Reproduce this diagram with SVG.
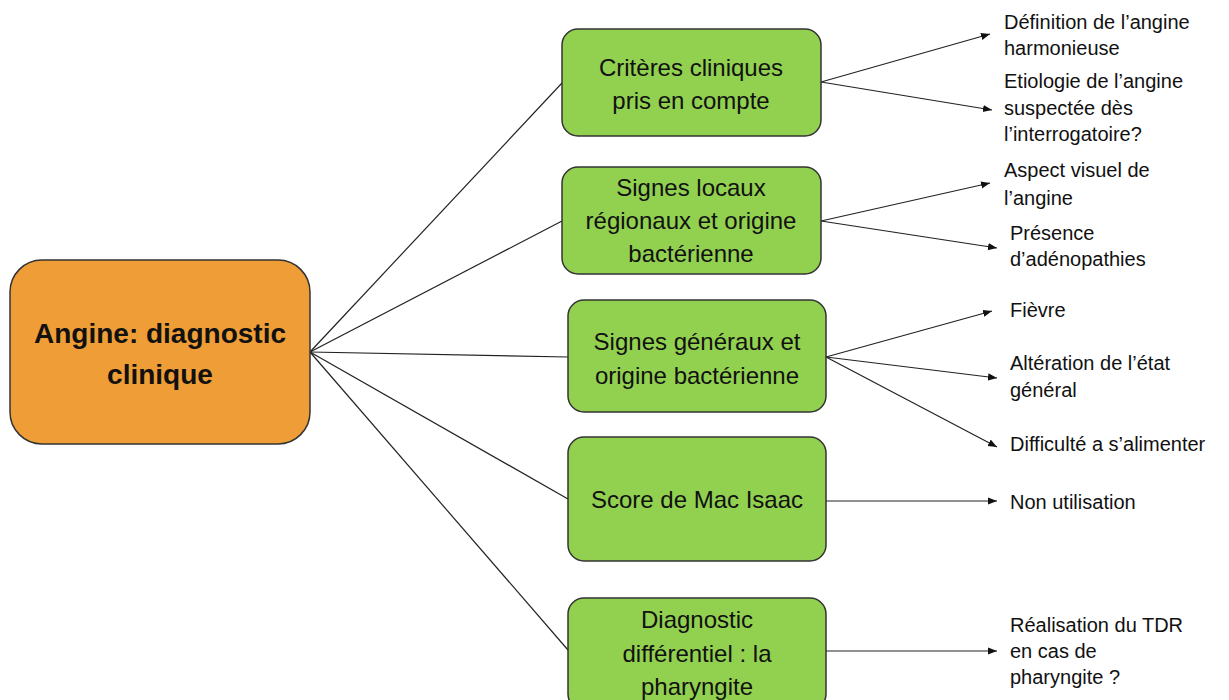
<svg xmlns="http://www.w3.org/2000/svg" width="1229" height="700" viewBox="0 0 1229 700">
<defs>
<marker id="arr" viewBox="0 0 10 10" refX="10" refY="5" markerWidth="9" markerHeight="9" markerUnits="userSpaceOnUse" orient="auto">
<path d="M0,1 L10,5 L0,9 Z" fill="#111"/>
</marker>
</defs>
<style>
.g{fill:#92D050;stroke:#333;stroke-width:1.5}
.o{fill:#EF9D36;stroke:#333;stroke-width:1.5}
.t{font-family:"Liberation Sans",Arial,sans-serif;font-size:24px;fill:#111;text-anchor:middle}
.c{font-family:"Liberation Sans",Arial,sans-serif;font-size:28px;font-weight:bold;fill:#111;text-anchor:middle}
.l{font-family:"Liberation Sans",Arial,sans-serif;font-size:20px;fill:#111}
.ln{stroke:#222;stroke-width:1.2;fill:none}
.ar{stroke:#222;stroke-width:1.2;fill:none;marker-end:url(#arr)}
</style>
<rect width="1229" height="700" fill="#fff"/>
<g id="connectors">
<line class="ln" x1="310" y1="352" x2="562" y2="83"/>
<line class="ln" x1="310" y1="352" x2="562" y2="221"/>
<line class="ln" x1="310" y1="352" x2="568" y2="357"/>
<line class="ln" x1="310" y1="352" x2="568" y2="499"/>
<line class="ln" x1="310" y1="352" x2="568" y2="650"/>
<line class="ar" x1="821" y1="82" x2="990" y2="34"/>
<line class="ar" x1="821" y1="82" x2="992" y2="110"/>
<line class="ar" x1="821" y1="221" x2="990" y2="183"/>
<line class="ar" x1="821" y1="221" x2="997" y2="248"/>
<line class="ar" x1="826" y1="357" x2="992" y2="311"/>
<line class="ar" x1="826" y1="357" x2="997" y2="378"/>
<line class="ar" x1="826" y1="357" x2="997" y2="447"/>
<line class="ar" x1="826" y1="501" x2="997" y2="501"/>
<line class="ar" x1="826" y1="651" x2="997" y2="651"/>
</g>
<g id="center">
<rect class="o" x="10" y="260" width="300" height="184" rx="32"/>
<text class="c" x="160" y="343">Angine: diagnostic</text>
<text class="c" x="160" y="384">clinique</text>
</g>
<g id="n1">
<rect class="g" x="562" y="29" width="259" height="107" rx="16"/>
<text class="t" x="691" y="76">Critères cliniques</text>
<text class="t" x="691" y="109">pris en compte</text>
</g>
<g id="n2">
<rect class="g" x="562" y="167" width="259" height="107" rx="16"/>
<text class="t" x="691" y="196">Signes locaux</text>
<text class="t" x="691" y="229">régionaux et origine</text>
<text class="t" x="691" y="262">bactérienne</text>
</g>
<g id="n3">
<rect class="g" x="568" y="300" width="258" height="112" rx="16"/>
<text class="t" x="697" y="350">Signes généraux et</text>
<text class="t" x="697" y="384">origine bactérienne</text>
</g>
<g id="n4">
<rect class="g" x="568" y="437" width="258" height="124" rx="16"/>
<text class="t" x="697" y="508">Score de Mac Isaac</text>
</g>
<g id="n5">
<rect class="g" x="568" y="598" width="258" height="112" rx="16"/>
<text class="t" x="697" y="628">Diagnostic</text>
<text class="t" x="697" y="662">différentiel : la</text>
<text class="t" x="697" y="695">pharyngite</text>
</g>
<g id="leaf1">
<text class="l" x="1004" y="29">Définition de l’angine</text>
<text class="l" x="1004" y="55">harmonieuse</text>
</g>
<g id="leaf2">
<text class="l" x="1004" y="88">Etiologie de l’angine</text>
<text class="l" x="1004" y="115">suspectée dès</text>
<text class="l" x="1004" y="141">l’interrogatoire?</text>
</g>
<g id="leaf3">
<text class="l" x="1004" y="177">Aspect visuel de</text>
<text class="l" x="1004" y="205">l’angine</text>
</g>
<g id="leaf4">
<text class="l" x="1010" y="240">Présence</text>
<text class="l" x="1010" y="266">d’adénopathies</text>
</g>
<g id="leaf5">
<text class="l" x="1010" y="317">Fièvre</text>
</g>
<g id="leaf6">
<text class="l" x="1010" y="370">Altération de l’état</text>
<text class="l" x="1010" y="397">général</text>
</g>
<g id="leaf7">
<text class="l" x="1010" y="451">Difficulté a s’alimenter</text>
</g>
<g id="leaf8">
<text class="l" x="1010" y="509">Non utilisation</text>
</g>
<g id="leaf9">
<text class="l" x="1010" y="632">Réalisation du TDR</text>
<text class="l" x="1010" y="658">en cas de</text>
<text class="l" x="1010" y="684">pharyngite ?</text>
</g>
</svg>
